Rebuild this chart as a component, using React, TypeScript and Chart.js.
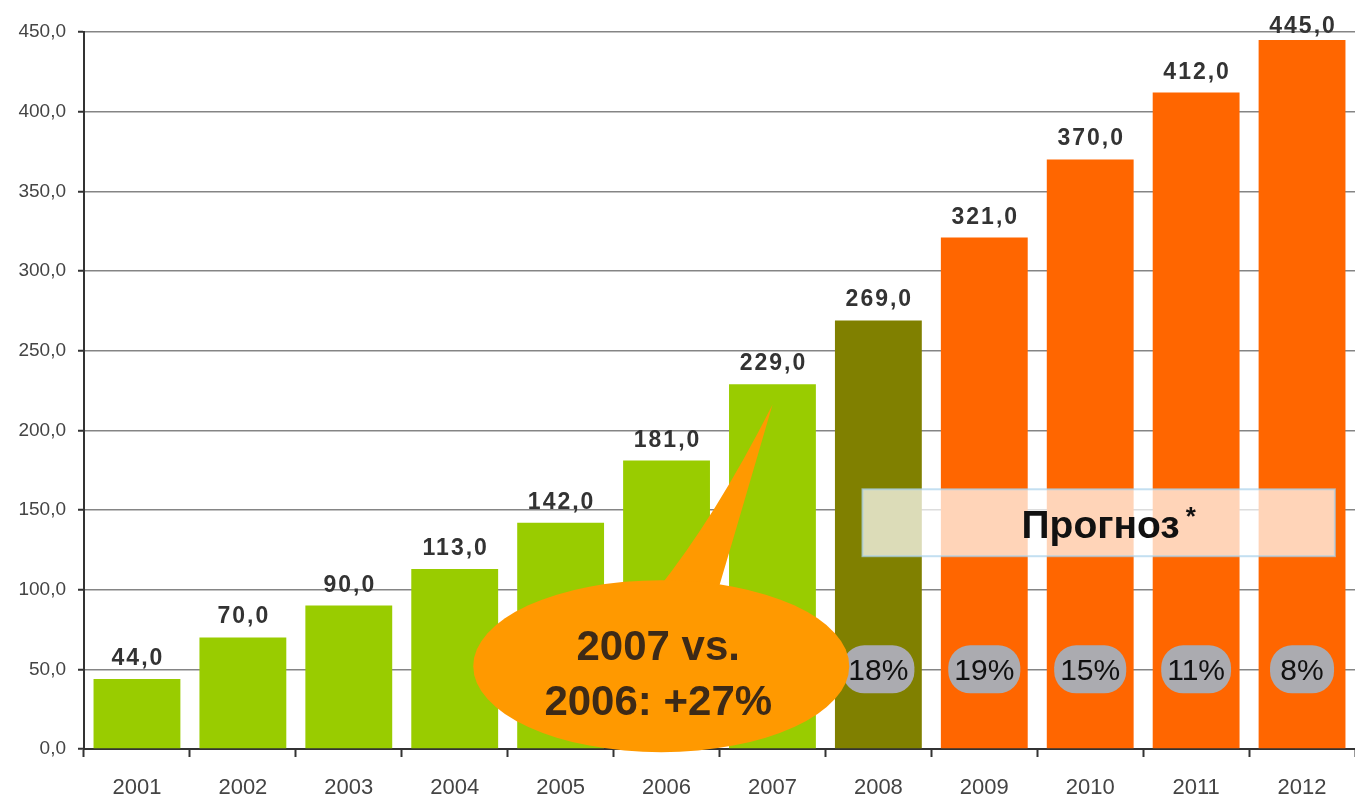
import React, { useEffect, useRef } from "react";
import { Chart, registerables } from "chart.js";

Chart.register(...registerables);

const years = ["2001", "2002", "2003", "2004", "2005", "2006", "2007", "2008", "2009", "2010", "2011", "2012"];
const values = [44, 70, 90, 113, 142, 181, 229, 269, 321, 370, 412, 445];
const barColors = [
  "#99cc00", "#99cc00", "#99cc00", "#99cc00", "#99cc00", "#99cc00", "#99cc00",
  "#808000",
  "#ff6600", "#ff6600", "#ff6600", "#ff6600",
];
const growthYears = ["2008", "2009", "2010", "2011", "2012"];
const growthLabels = ["18%", "19%", "15%", "11%", "8%"];
const calloutLines = ["2007 vs.", "2006: +27%"];
const forecastText = "Прогноз";
const yMax = 450;
const yStep = 50;

const fmt = (v: number) => v.toFixed(1).replace(".", ",");

const FONT = "'Liberation Sans', Arial, sans-serif";

const overlayPlugin = {
  id: "overlay",
  afterDatasetsDraw(chart: any) {
    const ctx = chart.ctx;
    const x = chart.scales.x;
    const y = chart.scales.y;
    const area = chart.chartArea;
    const meta = chart.getDatasetMeta(0);

    // value labels
    ctx.save();
    ctx.font = `bold 23px ${FONT}`;
    (ctx as any).letterSpacing = "2px";
    ctx.fillStyle = "#333333";
    ctx.textAlign = "center";
    ctx.textBaseline = "alphabetic";
    meta.data.forEach((bar: any, i: number) => {
      const by = Math.max(bar.y - 14, area.top + 1);
      ctx.fillText(fmt(values[i]), bar.x + 1, by);
    });
    ctx.restore();

    // forecast box
    ctx.save();
    const bl = x.getPixelForValue(6.85);
    const br = x.getPixelForValue(11.31);
    const bt = y.getPixelForValue(163);
    const bb = y.getPixelForValue(121);
    ctx.fillStyle = "rgba(255,255,255,0.72)";
    ctx.fillRect(bl, bt, br - bl, bb - bt);
    ctx.strokeStyle = "rgba(170,210,235,0.7)";
    ctx.lineWidth = 2;
    ctx.strokeRect(bl, bt, br - bl, bb - bt);
    ctx.fillStyle = "#111111";
    ctx.font = `bold 39px ${FONT}`;
    const tw = ctx.measureText(forecastText).width;
    ctx.font = `bold 26px ${FONT}`;
    const aw = ctx.measureText("*").width;
    const cx = (bl + br) / 2 + 10;
    const cy = (bt + bb) / 2;
    const sx = cx - (tw + aw + 6) / 2;
    ctx.textAlign = "left";
    ctx.textBaseline = "alphabetic";
    ctx.font = `bold 39px ${FONT}`;
    ctx.fillText(forecastText, sx, cy + 15);
    ctx.font = `bold 26px ${FONT}`;
    ctx.fillText("*", sx + tw + 6, cy + 2);
    ctx.restore();

    // growth pills
    ctx.save();
    ctx.font = `30px ${FONT}`;
    ctx.textAlign = "center";
    ctx.textBaseline = "middle";
    growthYears.forEach((yr, k) => {
      const idx = years.indexOf(yr);
      const px = x.getPixelForValue(idx);
      const py = y.getPixelForValue(50);
      const w = Math.max(64, ctx.measureText(growthLabels[k]).width + 12);
      const h = 48;
      ctx.fillStyle = "#ababb0";
      ctx.beginPath();
      (ctx as any).roundRect(px - w / 2, py - h / 2, w, h, 22);
      ctx.fill();
      ctx.fillStyle = "#111111";
      ctx.fillText(growthLabels[k], px, py + 2);
    });
    ctx.restore();

    // callout bubble
    ctx.save();
    const ex = x.getPixelForValue(4.95);
    const ey = y.getPixelForValue(52);
    const tipX = x.getPixelForValue(6);
    const tipY = y.getPixelForValue(216);
    ctx.fillStyle = "#ff9900";
    ctx.beginPath();
    ctx.moveTo(ex - 5, ey - 75);
    ctx.quadraticCurveTo(ex + 55, ey - 150, tipX, tipY);
    ctx.quadraticCurveTo(ex + 70, ey - 120, ex + 55, ey - 70);
    ctx.closePath();
    ctx.fill();
    ctx.beginPath();
    ctx.ellipse(ex, ey, 188, 86, 0, 0, Math.PI * 2);
    ctx.fill();
    ctx.fillStyle = "#3d2a17";
    ctx.font = `bold 42px ${FONT}`;
    ctx.textAlign = "center";
    ctx.textBaseline = "alphabetic";
    ctx.fillText(calloutLines[0], ex - 3, ey - 6);
    ctx.fillText(calloutLines[1], ex - 3, ey + 49);
    ctx.restore();
  },
};

export default function App() {
  const ref = useRef<HTMLCanvasElement | null>(null);
  useEffect(() => {
    if (!ref.current) return;
    const chart = new Chart(ref.current, {
      type: "bar",
      data: {
        labels: years,
        datasets: [
          {
            data: values,
            backgroundColor: barColors,
            borderWidth: 0,
            barPercentage: 0.82,
            categoryPercentage: 1,
          },
        ],
      },
      options: {
        animation: false,
        responsive: true,
        maintainAspectRatio: false,
        layout: { padding: { top: 32, left: 0, right: 0, bottom: 0 } },
        plugins: { legend: { display: false }, tooltip: { enabled: false } },
        scales: {
          x: {
            offset: true,
            grid: {
              offset: true,
              drawOnChartArea: false,
              drawTicks: true,
              tickLength: 8,
              tickColor: "#333333",
              tickWidth: 2,
            },
            border: { color: "#333333", width: 2 },
            ticks: {
              color: "#444444",
              font: { family: FONT, size: 22 },
              padding: 18,
              maxRotation: 0,
              autoSkip: false,
            },
            afterFit: (s: any) => {
              s.height = 53;
            },
          },
          y: {
            min: 0,
            max: yMax,
            grid: {
              color: "#858585",
              lineWidth: 1.5,
              tickLength: 6,
              tickColor: "#333333",
              tickWidth: 2,
            },
            border: { color: "#333333", width: 2 },
            ticks: {
              stepSize: yStep,
              color: "#444444",
              font: { family: FONT, size: 19 },
              padding: 12,
              callback: (v: any) => fmt(Number(v)),
            },
            afterFit: (s: any) => {
              s.width = 84;
            },
          },
        },
      },
      plugins: [overlayPlugin],
    });
    return () => chart.destroy();
  }, []);
  return (
    <div style={{ position: "fixed", left: 0, top: 0, width: 1355, height: 802, background: "#ffffff" }}>
      <canvas ref={ref} />
    </div>
  );
}
